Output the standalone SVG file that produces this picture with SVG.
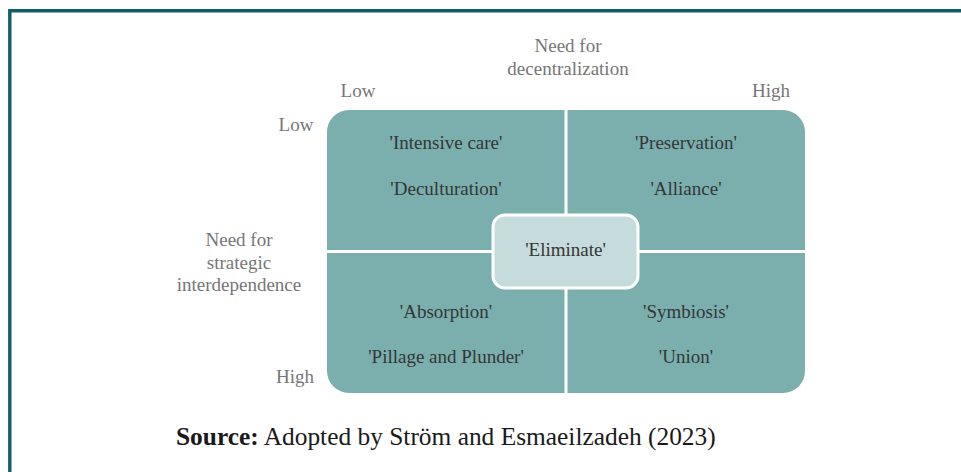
<svg xmlns="http://www.w3.org/2000/svg" width="961" height="472" viewBox="0 0 961 472">
<style>
.lbl{font-family:"Liberation Serif","Times New Roman",serif;font-size:19px;fill:#767676;text-anchor:middle}
.q{font-family:"Liberation Serif","Times New Roman",serif;font-size:19px;fill:#363636;text-anchor:middle}
.src{font-family:"Liberation Serif","Times New Roman",serif;font-size:25.4px;fill:#1a1a1a}
</style>
<rect width="961" height="472" fill="#ffffff"/>
<g id="frame">
<line x1="9.8" y1="10.7" x2="961" y2="10.7" stroke="#0e5f64" stroke-width="3.4"/>
<line x1="9.8" y1="9" x2="9.8" y2="472" stroke="#0e5f64" stroke-width="3.4"/>
</g>
<g id="grid">
<rect x="327" y="110" width="478" height="283" rx="22" ry="22" fill="#7aafae"/>
</g>
<g id="connectors">
<line x1="566" y1="108" x2="566" y2="395" stroke="#ffffff" stroke-width="3"/>
<line x1="325" y1="251.5" x2="807" y2="251.5" stroke="#ffffff" stroke-width="3"/>
</g>
<g id="q-top-left">
<text class="q" x="446" y="149">'Intensive care'</text>
<text class="q" x="446" y="195">'Deculturation'</text>
</g>
<g id="q-top-right">
<text class="q" x="686" y="149">'Preservation'</text>
<text class="q" x="686" y="195">'Alliance'</text>
</g>
<g id="q-bottom-left">
<text class="q" x="446" y="318">'Absorption'</text>
<text class="q" x="446" y="363">'Pillage and Plunder'</text>
</g>
<g id="q-bottom-right">
<text class="q" x="686" y="318">'Symbiosis'</text>
<text class="q" x="686" y="363">'Union'</text>
</g>
<g id="eliminate">
<rect x="493" y="215" width="145" height="73" rx="12" ry="12" fill="#c6dcdc" stroke="#ffffff" stroke-width="3"/>
<text class="q" x="565.5" y="256">'Eliminate'</text>
</g>
<g id="axis-top">
<text class="lbl" x="568" y="52">Need for</text>
<text class="lbl" x="568" y="75">decentralization</text>
<text class="lbl" x="358" y="97">Low</text>
<text class="lbl" x="771" y="97">High</text>
</g>
<g id="axis-left">
<text class="lbl" x="239" y="246">Need for</text>
<text class="lbl" x="239" y="269">strategic</text>
<text class="lbl" x="239" y="291">interdependence</text>
<text class="lbl" x="296" y="131">Low</text>
<text class="lbl" x="295" y="383">High</text>
</g>
<g id="source">
<text class="src" x="176" y="445"><tspan font-weight="bold">Source:</tspan> Adopted by Ström and Esmaeilzadeh (2023)</text>
</g>
</svg>
